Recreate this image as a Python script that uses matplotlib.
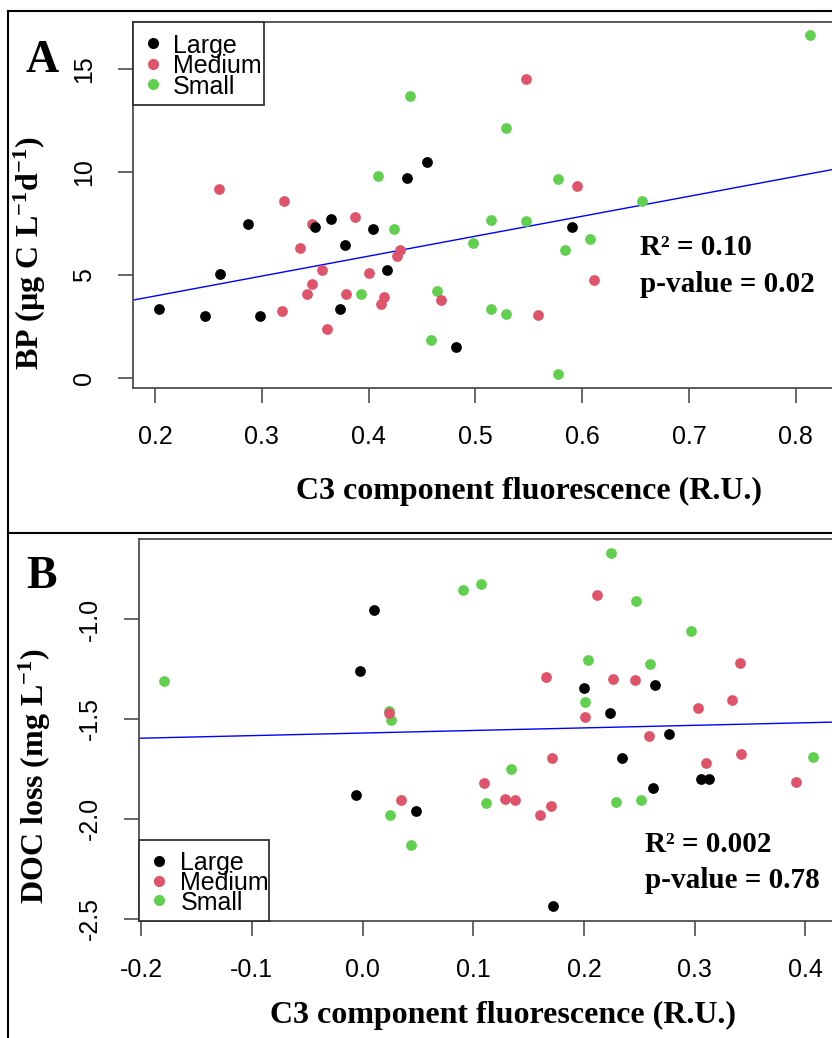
import numpy as np
import matplotlib
matplotlib.use("Agg")
import matplotlib.pyplot as plt
from matplotlib.lines import Line2D
from matplotlib.patches import Rectangle
from matplotlib.ticker import FormatStrFormatter

plt.rcParams['font.family'] = ['Liberation Sans', 'DejaVu Sans']
plt.rcParams['axes.unicode_minus'] = False
plt.rcParams['mathtext.fontset'] = 'custom'
plt.rcParams['mathtext.rm'] = 'Liberation Serif:bold'
plt.rcParams['mathtext.bf'] = 'Liberation Serif:bold'
plt.rcParams['mathtext.it'] = 'Liberation Serif:bold'

groups = ['Large', 'Medium', 'Small']
colores = {'Large': '#000000', 'Medium': '#DF536B', 'Small': '#61D04F'}

# panel A: BP vs C3
large_x_a = [0.204, 0.247, 0.261, 0.287, 0.298, 0.350, 0.365, 0.378, 0.373, 0.404, 0.417, 0.436, 0.455, 0.482, 0.590]
large_y_a = [3.32, 3.01, 5.04, 7.48, 3.01, 7.31, 7.70, 6.42, 3.32, 7.24, 5.22, 9.70, 10.47, 1.49, 7.31]
medium_x_a = [0.260, 0.321, 0.347, 0.387, 0.336, 0.356, 0.347, 0.342, 0.319, 0.361, 0.379,
              0.400, 0.429, 0.427, 0.414, 0.412, 0.468, 0.547, 0.595, 0.611, 0.559]
medium_y_a = [9.14, 8.59, 7.45, 7.81, 6.30, 5.22, 4.54, 4.08, 3.26, 2.38, 4.08,
              5.10, 6.22, 5.91, 3.92, 3.57, 3.76, 14.50, 9.33, 4.73, 3.03]
small_x_a = [0.409, 0.424, 0.393, 0.498, 0.464, 0.458, 0.813, 0.529, 0.439, 0.577, 0.656,
             0.515, 0.547, 0.607, 0.584, 0.515, 0.529, 0.577]
small_y_a = [9.77, 7.24, 4.08, 6.53, 4.21, 1.82, 16.65, 12.12, 13.67, 9.64, 8.59,
             7.68, 7.63, 6.74, 6.21, 3.34, 3.10, 0.18]
fit_a = (2.03, 9.68)  # intercepto, pendiente
stats_a = ['R² = 0.10', 'p-value = 0.02']

# panel B: DOC loss vs C3
large_x_b = [0.010, -0.002, -0.006, 0.048, 0.200, 0.264, 0.223, 0.277, 0.234, 0.262, 0.306, 0.313, 0.172]
large_y_b = [-0.955, -1.259, -1.883, -1.961, -1.344, -1.332, -1.471, -1.578, -1.698, -1.848, -1.801, -1.801, -2.439]
medium_x_b = [0.024, 0.035, 0.110, 0.212, 0.166, 0.226, 0.246, 0.201, 0.341, 0.334,
              0.303, 0.259, 0.171, 0.342, 0.310, 0.391, 0.129, 0.138, 0.170, 0.160]
medium_y_b = [-1.472, -1.906, -1.823, -0.881, -1.290, -1.299, -1.305, -1.491, -1.219, -1.404,
              -1.444, -1.584, -1.698, -1.676, -1.721, -1.815, -1.900, -1.906, -1.935, -1.980]
small_x_b = [-0.179, 0.091, 0.107, 0.024, 0.026, 0.025, 0.044, 0.111, 0.224, 0.247,
             0.297, 0.204, 0.260, 0.201, 0.134, 0.229, 0.251, 0.407]
small_y_b = [-1.312, -0.855, -0.826, -1.459, -1.506, -1.981, -2.133, -1.921, -0.670, -0.908,
             -1.058, -1.204, -1.227, -1.417, -1.750, -1.915, -1.908, -1.691]
fit_b = (-1.571, 0.129)
stats_b = ['R² = 0.002', 'p-value = 0.78']

W, H = 832, 1038
fig = plt.figure(figsize=(W / 100, H / 100), dpi=100)

def fx(x):
    return x / W

def fy(y):
    return 1 - y / H

def ejes(x0, x1, y0, y1):
    return fig.add_axes([fx(x0), fy(y1), fx(x1 - x0), (y1 - y0) / H])

def pintar(ax, datos, fit, xlim, ylim, xticks, yticks, yfmt):
    for g in ['Small', 'Medium', 'Large']:
        x, y = datos[g]
        ax.scatter(x, y, s=60, color=colores[g], linewidths=0, zorder=3)
    ax.axline((0, fit[0]), slope=fit[1], color='#0000FF', lw=1.0, zorder=2)
    ax.set_xlim(*xlim)
    ax.set_ylim(*ylim)
    ax.set_xticks(xticks)
    ax.set_yticks(yticks)
    ax.xaxis.set_major_formatter(FormatStrFormatter('%.1f'))
    ax.yaxis.set_major_formatter(FormatStrFormatter(yfmt))
    ax.tick_params(direction='out', length=11, width=1.2, color='#4d4d4d', labelsize=18, pad=16)
    plt.setp(ax.get_yticklabels(), rotation=90, va='center')
    for s in ax.spines.values():
        s.set_color('#4d4d4d')
        s.set_linewidth(1.3)

def leyenda(box, dot_x, txt_x, rows):
    x0, x1, y0, y1 = box
    fig.add_artist(Rectangle((fx(x0), fy(y1)), fx(x1 - x0), (y1 - y0) / H,
                             transform=fig.transFigure, fill=True, fc='white',
                             ec='#333333', lw=1.3, zorder=5))
    for g, r in zip(groups, rows):
        fig.add_artist(Line2D([fx(dot_x)], [fy(r)], marker='o', ms=8, mew=0,
                              color=colores[g], transform=fig.transFigure, zorder=6))
        fig.text(fx(txt_x), fy(r + 9.5), g, fontsize=18, va='baseline', zorder=6)

serif = dict(family='Liberation Serif', weight='bold')

# ---- panel A
axA = ejes(133.3, 835, 22, 387.7)
pintar(axA, {'Large': (large_x_a, large_y_a), 'Medium': (medium_x_a, medium_y_a),
             'Small': (small_x_a, small_y_a)}, fit_a,
       (0.1797, 0.8367), (-0.486, 17.27), [0.2, 0.3, 0.4, 0.5, 0.6, 0.7, 0.8], [0, 5, 10, 15], '%d')
leyenda((133.3, 264, 22, 105), 153, 173, [43, 63.7, 84])
fig.text(fx(640), fy(255), stats_a[0], fontsize=21, va='baseline', **serif)
fig.text(fx(640), fy(291.7), stats_a[1], fontsize=21, va='baseline', **serif)
fig.text(fx(529), fy(499), 'C3 component fluorescence (R.U.)', fontsize=23, ha='center', va='baseline', **serif)
fig.text(fx(48), fy(253), r'BP (µg C L$^{-1}$d$^{-1}$)', fontsize=23, rotation=90,
         ha='right', va='center', **serif)
fig.text(fx(26), fy(72), 'A', fontsize=33, va='baseline', **serif)

# ---- panel B
axB = ejes(139, 842, 539, 920.7)
pintar(axB, {'Large': (large_x_b, large_y_b), 'Medium': (medium_x_b, medium_y_b),
             'Small': (small_x_b, small_y_b)}, fit_b,
       (-0.202, 0.433), (-2.511, -0.599), [-0.2, -0.1, 0.0, 0.1, 0.2, 0.3, 0.4],
       [-2.5, -2.0, -1.5, -1.0], '%.1f')
leyenda((139, 269, 840, 920.7), 158.5, 180.5, [860.7, 880.7, 900])
fig.text(fx(645), fy(851.7), stats_b[0], fontsize=21, va='baseline', **serif)
fig.text(fx(645), fy(888.3), stats_b[1], fontsize=21, va='baseline', **serif)
fig.text(fx(503), fy(1023), 'C3 component fluorescence (R.U.)', fontsize=23, ha='center', va='baseline', **serif)
fig.text(fx(53), fy(776), r'DOC loss (mg L$^{-1}$)', fontsize=23, rotation=90,
         ha='right', va='center', **serif)
fig.text(fx(26), fy(588), 'B', fontsize=33, va='baseline', **serif)

# marco de la figura
for xs, ys in [([8, 832], [11, 11]), ([8, 8], [11, 1038]), ([8, 832], [533, 533])]:
    fig.add_artist(Line2D([fx(v) for v in xs], [fy(v) for v in ys], color='black', lw=1.5,
                          transform=fig.transFigure))

fig.savefig('out.png', dpi=100)
